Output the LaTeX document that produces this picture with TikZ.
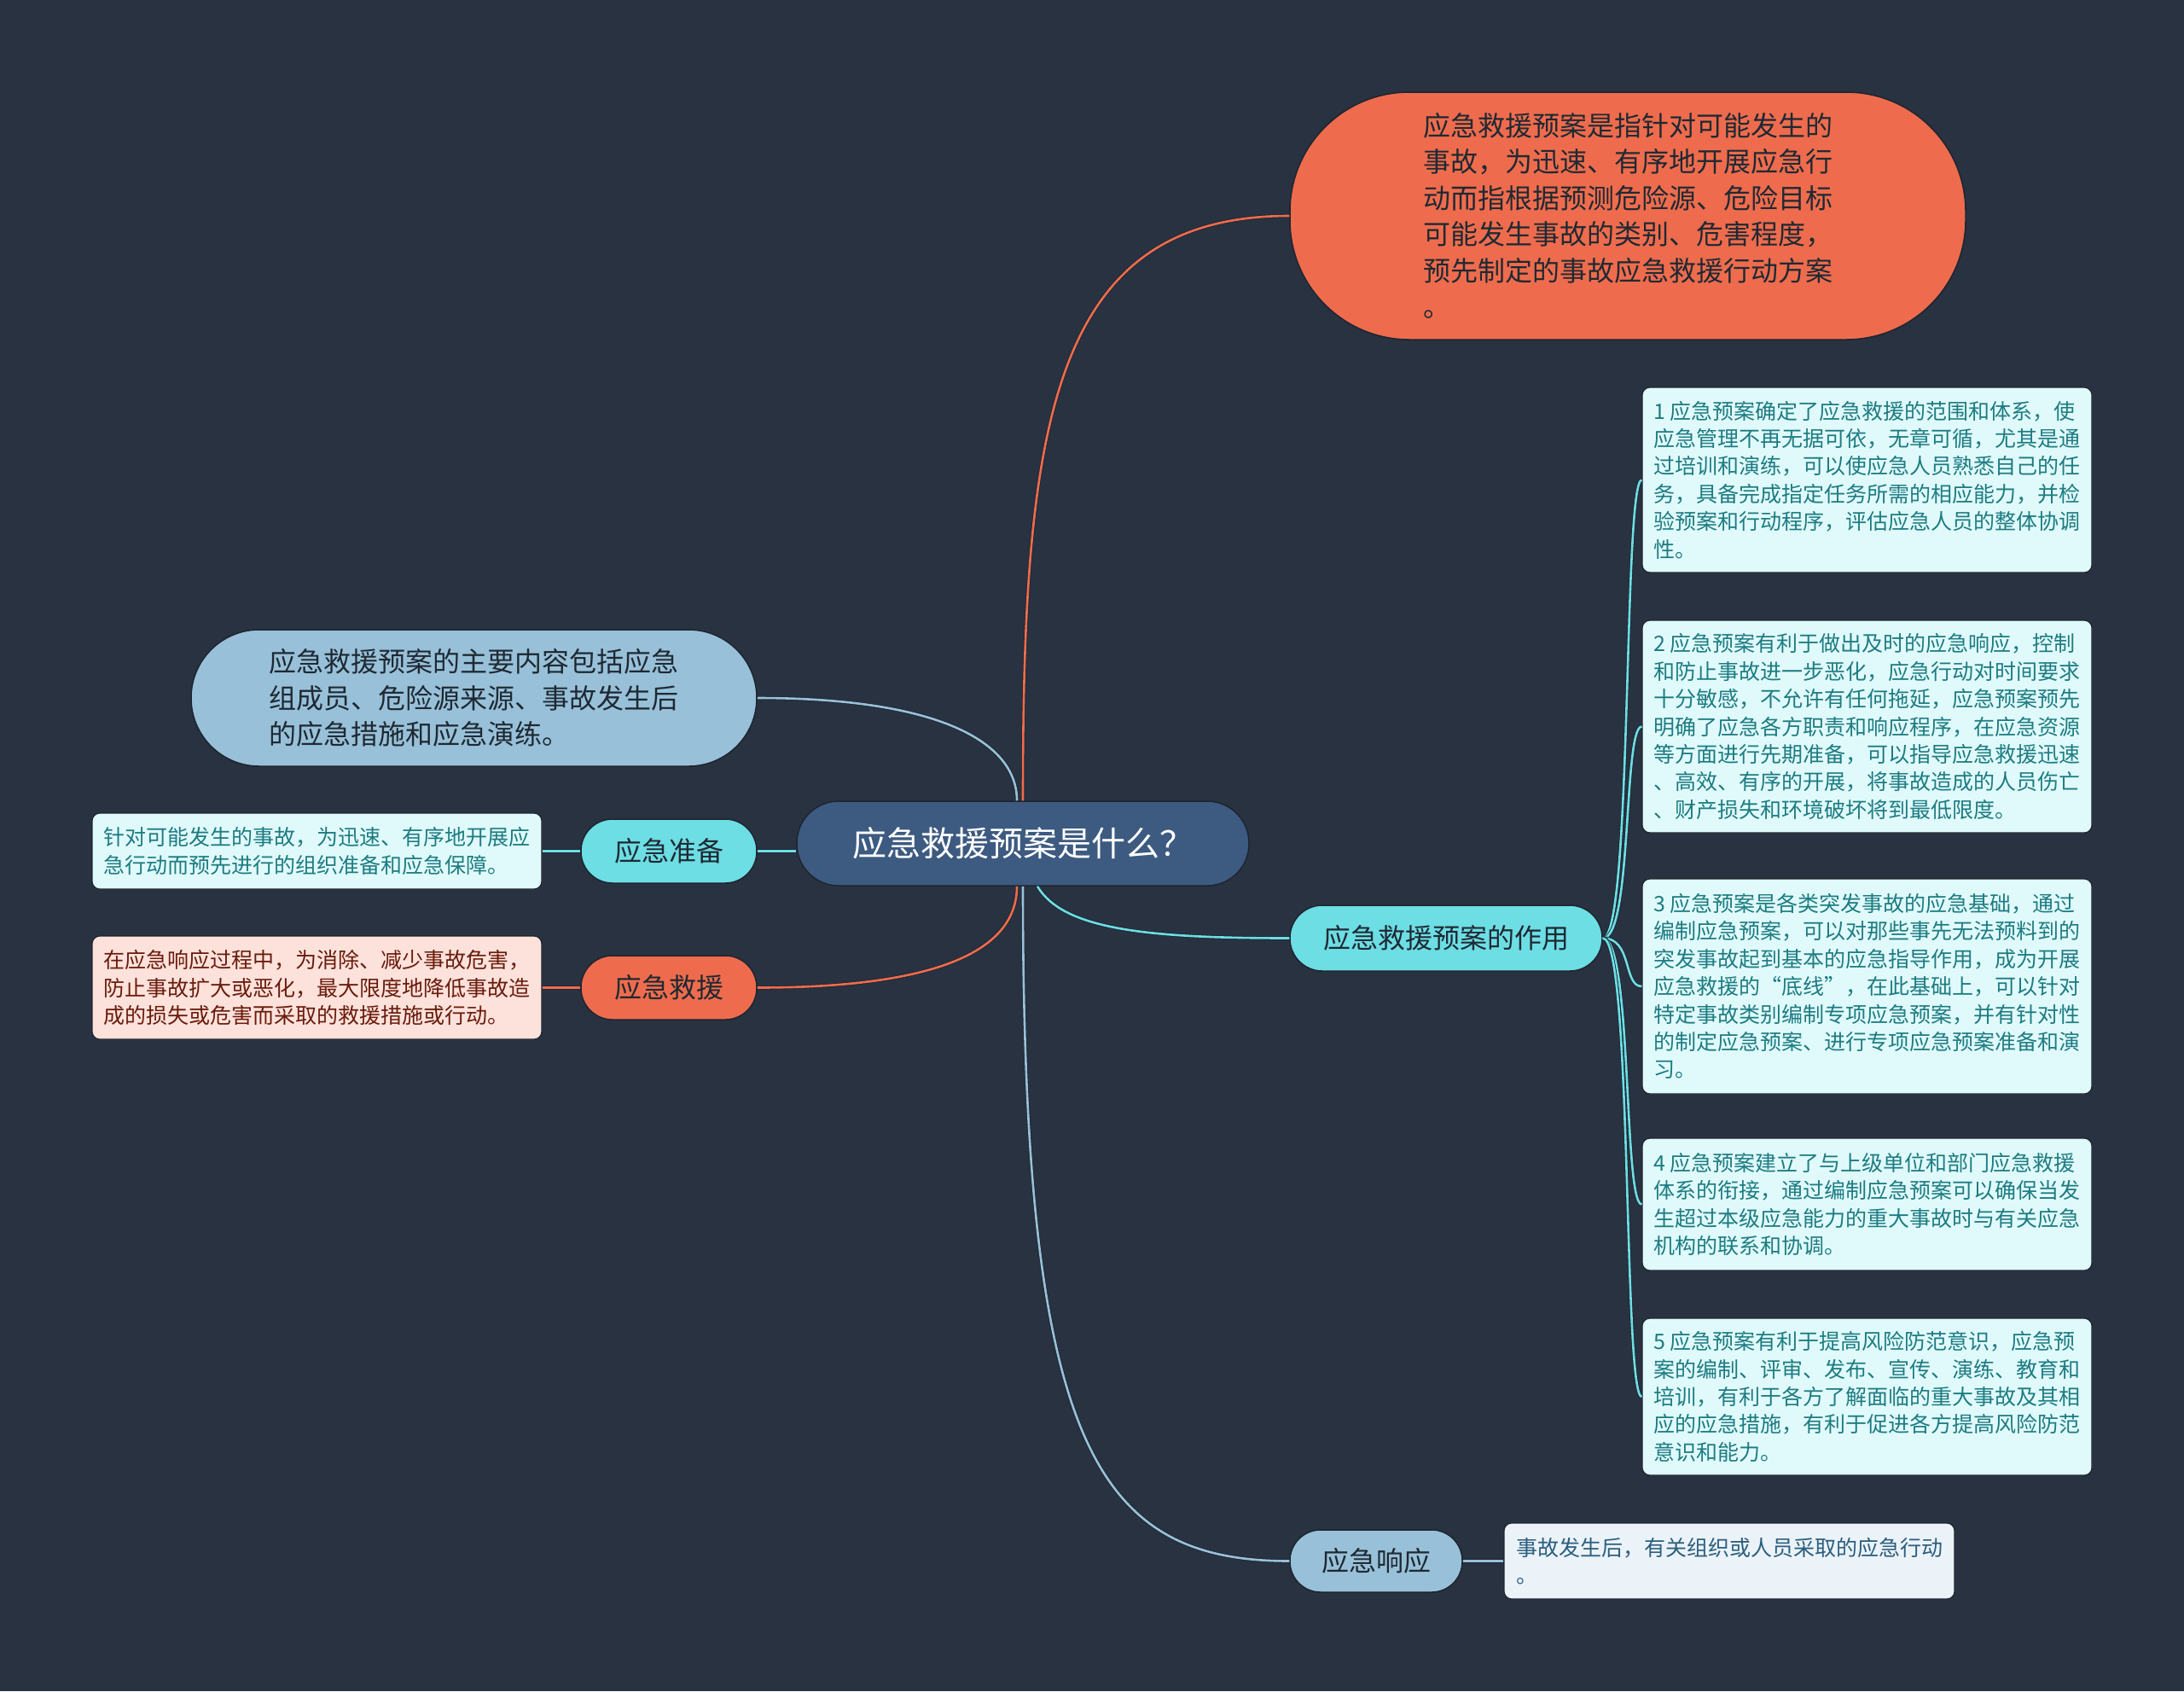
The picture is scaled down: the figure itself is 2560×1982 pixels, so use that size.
\documentclass[tikz,border=0pt]{standalone}
\usepackage{fontspec}
\setmainfont{Noto Sans CJK SC}
\usetikzlibrary{calc}
\definecolor{bg}{HTML}{293241}
\definecolor{rootc}{HTML}{3D5A80}
\definecolor{orangec}{HTML}{EE6C4D}
\definecolor{bluec}{HTML}{98C1D9}
\definecolor{cyanc}{HTML}{6CDEE4}
\definecolor{leafcyan}{HTML}{E0FAFB}
\definecolor{leafpink}{HTML}{FDE2DB}
\definecolor{leafblue}{HTML}{EBF3F8}
\definecolor{edgec}{HTML}{1E2530}
\definecolor{darktext}{HTML}{1F2933}
\definecolor{tealtext}{HTML}{1D7C82}
\definecolor{redtext}{HTML}{6A1B0C}
\definecolor{bluetext}{HTML}{2C5E7E}
\tikzset{
  mainnode/.style={draw=edgec, line width=1.5pt, inner sep=0pt, align=left, text=darktext,
    font=\fontsize{32pt}{42.5pt}\selectfont},
  leafnode/.style={draw=edgec, line width=1.2pt, inner sep=0pt, align=left, rounded corners=9pt,
    font=\fontsize{25pt}{32.4pt}\selectfont},
  link/.style={draw=edgec, line width=0.8pt, double=#1, double distance=2.6pt},
}
\begin{document}
\begin{tikzpicture}[x=1pt,y=-1pt]
\fill[bg] (0,0) rectangle (2560,1982);
\useasboundingbox (0,0) rectangle (2560,1982);

% main nodes
\node[mainnode, fill=rootc, text=white, minimum width=530pt, minimum height=99pt, rounded corners=49pt,
  font=\fontsize{40pt}{48pt}\selectfont] (root) at (1199,988.5) {应急救援预案是什么？};
\node[mainnode, fill=orangec, minimum width=792pt, minimum height=290pt, rounded corners=140pt] (def) at (1908,253)
  {应急救援预案是指针对可能发生的\\事故，为迅速、有序地开展应急行\\动而指根据预测危险源、危险目标\\可能发生事故的类别、危害程度，\\预先制定的事故应急救援行动方案\\。};
\node[mainnode, fill=bluec, minimum width=663pt, minimum height=160pt, rounded corners=80pt] (content) at (555.5,818)
  {应急救援预案的主要内容包括应急\\组成员、危险源来源、事故发生后\\的应急措施和应急演练。};
\node[mainnode, fill=cyanc, minimum width=206pt, minimum height=75pt, rounded corners=37pt] (prep) at (784,997.5) {应急准备};
\node[mainnode, fill=orangec, minimum width=206pt, minimum height=75pt, rounded corners=37pt] (rescue) at (784,1157.5) {应急救援};
\node[mainnode, fill=cyanc, minimum width=366pt, minimum height=77pt, rounded corners=38pt] (role) at (1695,1099.5) {应急救援预案的作用};
\node[mainnode, fill=bluec, minimum width=202pt, minimum height=73pt, rounded corners=36pt] (resp) at (1613,1829.5) {应急响应};

% leaves
\node[leafnode, fill=leafcyan, text=tealtext, minimum width=527pt, minimum height=89pt] (prepleaf) at (371.5,997.5)
  {针对可能发生的事故，为迅速、有序地开展应\\急行动而预先进行的组织准备和应急保障。};
\node[leafnode, fill=leafpink, text=redtext, minimum width=527pt, minimum height=121pt] (rescueleaf) at (371.5,1157.5)
  {在应急响应过程中，为消除、减少事故危害，\\防止事故扩大或恶化，最大限度地降低事故造\\成的损失或危害而采取的救援措施或行动。};
\node[leafnode, fill=leafblue, text=bluetext, minimum width=528pt, minimum height=89pt] (respleaf) at (2027,1829.5)
  {事故发生后，有关组织或人员采取的应急行动\\。};
\node[leafnode, fill=leafcyan, text=tealtext, minimum width=527pt, minimum height=217pt] (leaf1) at (2188.5,562.5)
  {1 应急预案确定了应急救援的范围和体系，使\\应急管理不再无据可依，无章可循，尤其是通\\过培训和演练，可以使应急人员熟悉自己的任\\务，具备完成指定任务所需的相应能力，并检\\验预案和行动程序，评估应急人员的整体协调\\性。};
\node[leafnode, fill=leafcyan, text=tealtext, minimum width=527pt, minimum height=249pt] (leaf2) at (2188.5,851.5)
  {2 应急预案有利于做出及时的应急响应，控制\\和防止事故进一步恶化，应急行动对时间要求\\十分敏感，不允许有任何拖延，应急预案预先\\明确了应急各方职责和响应程序，在应急资源\\等方面进行先期准备，可以指导应急救援迅速\\、高效、有序的开展，将事故造成的人员伤亡\\、财产损失和环境破坏将到最低限度。};
\node[leafnode, fill=leafcyan, text=tealtext, minimum width=527pt, minimum height=252pt] (leaf3) at (2188.5,1156)
  {3 应急预案是各类突发事故的应急基础，通过\\编制应急预案，可以对那些事先无法预料到的\\突发事故起到基本的应急指导作用，成为开展\\应急救援的“底线”，在此基础上，可以针对\\特定事故类别编制专项应急预案，并有针对性\\的制定应急预案、进行专项应急预案准备和演\\习。};
\node[leafnode, fill=leafcyan, text=tealtext, minimum width=527pt, minimum height=155pt] (leaf4) at (2188.5,1411.5)
  {4 应急预案建立了与上级单位和部门应急救援\\体系的衔接，通过编制应急预案可以确保当发\\生超过本级应急能力的重大事故时与有关应急\\机构的联系和协调。};
\node[leafnode, fill=leafcyan, text=tealtext, minimum width=527pt, minimum height=184pt] (leaf5) at (2188.5,1637)
  {5 应急预案有利于提高风险防范意识，应急预\\案的编制、评审、发布、宣传、演练、教育和\\培训，有利于各方了解面临的重大事故及其相\\应的应急措施，有利于促进各方提高风险防范\\意识和能力。};

% connectors
\draw[link=orangec] (root.north) .. controls +(0,-440) and ($(def.west)+(-280,0)$) .. (def.west);
\draw[link=bluec] ($(root.north)+(-7,0)$) .. controls +(0,-70) and ($(content.east)+(210,0)$) .. (content.east);
\draw[link=cyanc] (prep.east) -- (prep.east -| root.west);
\draw[link=orangec] ($(root.south)+(-7,0)$) .. controls +(0,80) and ($(rescue.east)+(200,0)$) .. (rescue.east);
\draw[link=cyanc] ($(root.south)+(17,0)$) .. controls +(30,50) and ($(role.west)+(-170,0)$) .. (role.west);
\draw[link=bluec] (root.south) .. controls +(0,650) and ($(resp.west)+(-230,0)$) .. (resp.west);
\draw[link=cyanc] (prepleaf.east) -- (prep.west);
\draw[link=orangec] (rescueleaf.east) -- (rescue.west);
\draw[link=bluec] (resp.east) -- (respleaf.west);
\foreach \l in {leaf1,leaf2,leaf3,leaf4,leaf5}{
  \draw[link=cyanc] (role.east) .. controls +(35,0) and ($(\l.west)+(-22,0)$) .. (\l.west);
}
\end{tikzpicture}
\end{document}
